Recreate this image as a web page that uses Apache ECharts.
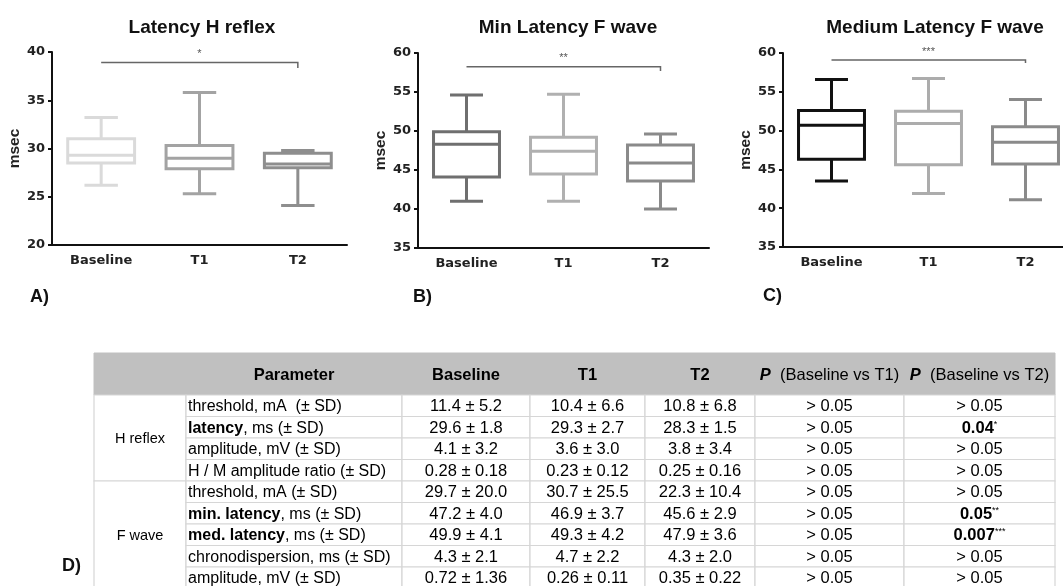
<!DOCTYPE html>
<html><head><meta charset="utf-8">
<script src="https://cdn.jsdelivr.net/npm/echarts@6/dist/echarts.min.js"></script>
<style>html,body{margin:0;padding:0;background:#fff}#c{width:1063px;height:586px}</style>
</head><body><div id="c"></div>
<script>
// ---------- DATA ----------
const groups = ['Baseline', 'T1', 'T2'];
const chartTitles = ['Latency H reflex', 'Min Latency F wave', 'Medium Latency F wave'];
const panelLabels = ['A)', 'B)', 'C)', 'D)'];
const yAxisName = 'msec';
// each box: [min, Q1, median, Q3, max]
const hReflexLatency = [[26.2, 28.5, 29.3, 31.0, 33.2], [25.3, 27.9, 29.0, 30.3, 35.8], [24.1, 28.0, 28.4, 29.5, 29.8]];
const fWaveMinLatency = [[41.0, 44.1, 48.3, 49.9, 54.6], [41.0, 44.5, 47.4, 49.2, 54.7], [40.0, 43.6, 45.9, 48.2, 49.6]];
const fWaveMedLatency = [[43.5, 46.3, 50.7, 52.6, 56.6], [41.9, 45.6, 50.9, 52.5, 56.7], [41.1, 45.7, 48.5, 50.5, 54.0]];
const yMins = [20, 35, 35];
const yMaxs = [40, 60, 60];
const yStep = 5;
const sigMarks = ['*', '**', '***'];
const sigBarLevel = [38.9, 58.25, 59.1];
const sigBarEnd = [38.35, 57.7, 58.7];

const tableHeader = ['', 'Parameter', 'Baseline', 'T1', 'T2', 'P|  (Baseline vs T1)', 'P|  (Baseline vs T2)'];
const tableGroups = ['H reflex', 'F wave'];
const groupSizes = [4, 5];
const paramTerms = ['threshold', 'latency', 'amplitude', 'H / M amplitude ratio', 'threshold', 'min. latency', 'med. latency', 'chronodispersion', 'amplitude'];
const paramUnits = [', mA  (± SD)', ', ms (± SD)', ', mV (± SD)', ' (± SD)', ', mA (± SD)', ', ms (± SD)', ', ms (± SD)', ', ms (± SD)', ', mV (± SD)'];
const baselineVals = ['11.4 ± 5.2', '29.6 ± 1.8', '4.1 ± 3.2', '0.28 ± 0.18', '29.7 ± 20.0', '47.2 ± 4.0', '49.9 ± 4.1', '4.3 ± 2.1', '0.72 ± 1.36'];
const t1Vals = ['10.4 ± 6.6', '29.3 ± 2.7', '3.6 ± 3.0', '0.23 ± 0.12', '30.7 ± 25.5', '46.9 ± 3.7', '49.3 ± 4.2', '4.7 ± 2.2', '0.26 ± 0.11'];
const t2Vals = ['10.8 ± 6.8', '28.3 ± 1.5', '3.8 ± 3.4', '0.25 ± 0.16', '22.3 ± 10.4', '45.6 ± 2.9', '47.9 ± 3.6', '4.3 ± 2.0', '0.35 ± 0.22'];
const pBaselineT1 = ['> 0.05', '> 0.05', '> 0.05', '> 0.05', '> 0.05', '> 0.05', '> 0.05', '> 0.05', '> 0.05'];
const pBaselineT2 = ['> 0.05', '0.04', '> 0.05', '> 0.05', '> 0.05', '0.05', '0.007', '> 0.05', '> 0.05'];
const pT2Stars = ['', '*', '', '', '', '**', '***', '', ''];

// ---------- LAYOUT / STYLE ----------
const boxSets = [hReflexLatency, fWaveMinLatency, fWaveMedLatency];
const boxColors = [['#dadada', '#a3a3a3', '#8e8e8e'], ['#6f6f6f', '#b0b0b0', '#8a8a8a'], ['#111111', '#acacac', '#8a8a8a']];
const chartGrids = [
  { left: 52, top: 52, width: 295, height: 193 },
  { left: 418, top: 53, width: 291, height: 195 },
  { left: 783, top: 53, width: 291, height: 194 }
];
const titleCenters = [197, 563, 930];
const panelPos = [[25, 283], [408, 283], [758, 282], [57, 552]];
const colW = [92, 216, 128, 115, 110, 149, 151];
const headH = 42, rowH = 21.5;
const colStart = [0]; colW.forEach((w, i) => colStart.push(colStart[i] + w));
const rowStart = [0, headH]; for (let r = 1; r <= 9; r++) rowStart.push(headH + r * rowH);
const FONT = 'Liberation Sans, Arial, sans-serif';

// ---------- BUILD ----------
function boxRender(colors) {
  return function (params, api) {
    const i = api.value(0);
    const cx = api.coord([i, api.value(3)])[0];
    const y = k => api.coord([i, api.value(k)])[1];
    const yMin = y(1), yQ1 = y(2), yMed = y(3), yQ3 = y(4), yMax = y(5);
    const band = api.size([1, 0])[0];
    const hw = band * 0.34, cw = hw / 2;
    const st = { stroke: colors[i], lineWidth: 3, fill: null };
    return { type: 'group', children: [
      { type: 'line', shape: { x1: cx, y1: yQ3, x2: cx, y2: yMax }, style: st },
      { type: 'line', shape: { x1: cx - cw, y1: yMax, x2: cx + cw, y2: yMax }, style: st },
      { type: 'line', shape: { x1: cx, y1: yQ1, x2: cx, y2: yMin }, style: st },
      { type: 'line', shape: { x1: cx - cw, y1: yMin, x2: cx + cw, y2: yMin }, style: st },
      { type: 'rect', shape: { x: cx - hw, y: yQ3, width: 2 * hw, height: yQ1 - yQ3 }, style: { stroke: colors[i], lineWidth: 3, fill: '#fff' } },
      { type: 'line', shape: { x1: cx - hw, y1: yMed, x2: cx + hw, y2: yMed }, style: st }
    ] };
  };
}
function sigRender(k) {
  return function (params, api) {
    const p0 = api.coord([api.value(0), api.value(2)]);
    const p1 = api.coord([api.value(1), api.value(2)]);
    const p2 = api.coord([api.value(1), api.value(3)]);
    return { type: 'group', children: [
      { type: 'polyline', shape: { points: [p0, p1, p2] }, style: { stroke: '#666', lineWidth: 1.5, fill: null } },
      { type: 'text', style: { text: sigMarks[k], x: (p0[0] + p1[0]) / 2, y: p0[1] - 3, align: 'center', verticalAlign: 'bottom', fontSize: 11, fontFamily: FONT, fill: '#555' } }
    ] };
  };
}

const grid = [], xAxis = [], yAxis = [], series = [], title = [];
for (let k = 0; k < 3; k++) {
  grid.push(Object.assign({ outerBoundsMode: 'none', containLabel: false }, chartGrids[k]));
  xAxis.push({
    gridIndex: k, type: 'category', data: groups,
    axisLine: { lineStyle: { color: '#111', width: 2 } },
    axisTick: { alignWithLabel: true, length: 5, lineStyle: { color: '#111', width: 2 } },
    axisLabel: { fontFamily: 'DejaVu Sans', fontWeight: 'bold', fontSize: 13, color: '#222', margin: 9 }
  });
  yAxis.push({
    gridIndex: k, type: 'value', min: yMins[k], max: yMaxs[k], interval: yStep,
    name: yAxisName, nameLocation: 'middle', nameGap: 29,
    nameTextStyle: { fontFamily: FONT, fontWeight: 'bold', fontSize: 15.5, color: '#222' },
    axisLine: { show: true, lineStyle: { color: '#111', width: 2 } },
    axisTick: { show: true, length: 4, lineStyle: { color: '#111', width: 2 } },
    splitLine: { show: false },
    axisLabel: { fontFamily: 'DejaVu Sans', fontWeight: 'bold', fontSize: 13, color: '#222', margin: 7 }
  });
  series.push({
    type: 'custom', xAxisIndex: k, yAxisIndex: k, clip: false,
    encode: { x: 0, y: [1, 2, 3, 4, 5] },
    data: boxSets[k].map((v, i) => [i].concat(v)),
    renderItem: boxRender(boxColors[k])
  });
  series.push({
    type: 'custom', xAxisIndex: k, yAxisIndex: k, clip: false,
    encode: { x: [0, 1], y: [2, 3] },
    data: [[0, 2, sigBarLevel[k], sigBarEnd[k]]],
    renderItem: sigRender(k)
  });
  title.push({ text: chartTitles[k], left: titleCenters[k], textAlign: 'center', top: 13,
    textStyle: { fontFamily: FONT, fontWeight: 'bold', fontSize: 19, color: '#111' } });
}
panelLabels.forEach((t, i) => title.push({ text: t, left: panelPos[i][0], top: panelPos[i][1],
  textStyle: { fontFamily: FONT, fontWeight: 'bold', fontSize: 18, color: '#111' } }));

// table
const cells = [];
tableHeader.forEach((h, c) => {
  let txt = h;
  if (h.indexOf('|') >= 0) { const s = h.split('|'); txt = '{pi|' + s[0] + '}{hn|' + s[1] + '}'; }
  else if (h) txt = '{hb|' + h + '}';
  cells.push({ col: c, row: 0, span: 1, head: true, text: txt, align: 'center' });
});
let rr = 1;
tableGroups.forEach((g, gi) => { cells.push({ col: 0, row: rr, span: groupSizes[gi], text: '{grp|' + g + '}', align: 'center' }); rr += groupSizes[gi]; });
for (let r = 0; r < paramTerms.length; r++) {
  const sig = pT2Stars[r] !== '';
  const term = sig ? '{pb|' + paramTerms[r] + '}' : '{p|' + paramTerms[r] + '}';
  cells.push({ col: 1, row: r + 1, span: 1, text: term + '{p|' + paramUnits[r] + '}', align: 'left' });
  [baselineVals, t1Vals, t2Vals, pBaselineT1].forEach((arr, j) =>
    cells.push({ col: 2 + j, row: r + 1, span: 1, text: '{v|' + arr[r] + '}', align: 'center' }));
  cells.push({ col: 6, row: r + 1, span: 1, align: 'center',
    text: sig ? '{vb|' + pBaselineT2[r] + '}{sup|' + pT2Stars[r] + '}' : '{v|' + pBaselineT2[r] + '}' });
}
const rich = {
  hb: { fontFamily: FONT, fontWeight: 'bold', fontSize: 16.5, color: '#111' },
  hn: { fontFamily: FONT, fontSize: 16.5, color: '#222' },
  pi: { fontFamily: FONT, fontWeight: 'bold', fontStyle: 'italic', fontSize: 16.5, color: '#111' },
  grp: { fontFamily: FONT, fontSize: 14.5, color: '#444' },
  p: { fontFamily: FONT, fontSize: 16, color: '#333' },
  pb: { fontFamily: FONT, fontSize: 16, fontWeight: 'bold', color: '#222' },
  v: { fontFamily: FONT, fontSize: 16.5, color: '#333' },
  vb: { fontFamily: FONT, fontSize: 16.5, fontWeight: 'bold', color: '#222' },
  sup: { fontFamily: FONT, fontSize: 9, color: '#444', padding: [0, 0, 8, 0] }
};
grid.push({ left: 94, top: 353, width: colStart[7], height: rowStart[10], outerBoundsMode: 'none', containLabel: false });
xAxis.push({ gridIndex: 3, type: 'value', min: 0, max: colStart[7], show: false });
yAxis.push({ gridIndex: 3, type: 'value', min: 0, max: rowStart[10], inverse: true, show: false });
series.push({
  type: 'custom', xAxisIndex: 3, yAxisIndex: 3, clip: false,
  encode: { x: 0, y: 1 },
  data: cells.map(c => [colStart[c.col], rowStart[c.row]]),
  renderItem: function (params, api) {
    const c = cells[params.dataIndex];
    const p0 = api.coord([colStart[c.col], rowStart[c.row]]);
    const p1 = api.coord([colStart[c.col + 1], rowStart[c.row + c.span]]);
    const rect = { type: 'rect', shape: { x: p0[0], y: p0[1], width: p1[0] - p0[0], height: p1[1] - p0[1] },
      style: c.head ? { fill: '#c0c0c0', stroke: '#c0c0c0', lineWidth: 1 } : { fill: '#fff', stroke: '#d6d6d6', lineWidth: 1.2 } };
    const text = { type: 'text', z2: 10, style: { text: c.text, rich: rich,
      x: c.align === 'left' ? p0[0] + 2 : (p0[0] + p1[0]) / 2, y: (p0[1] + p1[1]) / 2 + 1,
      align: c.align, verticalAlign: 'middle' } };
    return { type: 'group', children: [rect, text] };
  }
});

const chart = echarts.init(document.getElementById('c'), null, { renderer: 'canvas' });
chart.setOption({ backgroundColor: '#fff', animation: false, title, grid, xAxis, yAxis, series });
</script></body></html>
